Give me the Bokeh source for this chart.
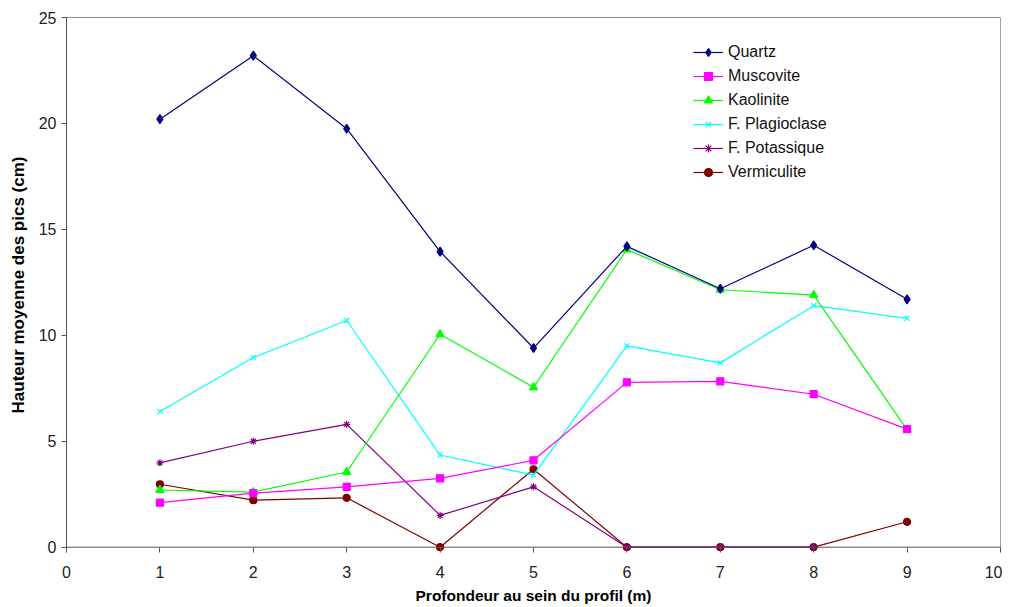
from bokeh.plotting import figure
from bokeh.models import ColumnDataSource, FixedTicker, Range1d, Legend, Span
from bokeh.embed import file_html
from bokeh.resources import INLINE

nan = float("nan")
depth = [1, 2, 3, 4, 5, 6, 7, 8, 9]
quartz = [20.2, 23.2, 19.75, 13.95, 9.4, 14.2, 12.2, 14.25, 11.7]
muscovite = [2.1, 2.55, 2.85, 3.25, 4.1, 7.78, 7.83, 7.22, 5.57]
kaolinite = [2.7, 2.6, 3.55, 10.05, 7.55, 14.05, 12.15, 11.9, 5.55]
plagioclase = [6.4, 8.95, 10.7, 4.35, 3.4, 9.5, 8.7, 11.4, 10.8]
potassique = [3.98, 5.0, 5.8, 1.5, 2.85, 0.0, 0.0, 0.0, nan]
vermiculite = [2.97, 2.22, 2.33, 0.0, 3.68, 0.0, 0.0, 0.0, 1.2]

series_names = ["Quartz", "Muscovite", "Kaolinite", "F. Plagioclase", "F. Potassique", "Vermiculite"]
series_values = [quartz, muscovite, kaolinite, plagioclase, potassique, vermiculite]
colors = ["#000080", "#FF00FF", "#00FF00", "#00FFFF", "#800080", "#800000"]
markers = ["diamond", "square", "triangle", "x", "asterisk", "circle"]
sizes = [9, 7, 8, 7, 7, 7]

x_ticks = list(range(0, 11))
y_ticks = [0, 5, 10, 15, 20, 25]

p = figure(frame_width=934, frame_height=535, output_backend="svg", toolbar_location=None,
           x_range=Range1d(0, 10), y_range=Range1d(-0.25, 25),
           min_border_left=66, min_border_right=2, min_border_top=17, min_border_bottom=55)
p.background_fill_color = "white"
p.border_fill_color = "white"
p.outline_line_color = None
p.grid.visible = False

# frame lines: top, right, and baseline at y=0
p.add_layout(Span(location=25, dimension="width", line_color="#222222", line_width=1))
p.add_layout(Span(location=10, dimension="height", line_color="#444444", line_width=1))
p.add_layout(Span(location=0, dimension="width", line_color="#555555", line_width=1))

renderers = {}
for name, vals, col, mk, sz in reversed(list(zip(series_names, series_values, colors, markers, sizes))):
    src = ColumnDataSource(dict(x=depth, y=vals))
    l = p.line("x", "y", source=src, line_color=col, line_width=1.2)
    s = p.scatter("x", "y", source=src, marker=mk, size=sz, fill_color=col, line_color=col, line_width=1.2)
    renderers[name] = [l, s]
items = [(name, renderers[name]) for name in series_names]

legend = Legend(items=items, location=(627, 370))
legend.background_fill_alpha = 0
legend.border_line_alpha = 0
legend.label_text_font = "Liberation Sans"
legend.label_text_font_size = "16px"
legend.label_text_color = "#111111"
legend.glyph_width = 30
legend.glyph_height = 20
legend.label_height = 20
legend.spacing = 4
legend.padding = 0
legend.margin = 0
legend.label_standoff = 5
p.add_layout(legend)

p.xaxis.ticker = FixedTicker(ticks=x_ticks)
p.yaxis.ticker = FixedTicker(ticks=y_ticks)
for ax in (p.xaxis, p.yaxis):
    ax.major_tick_line_color = "#555555"
    ax.minor_tick_line_color = None
    ax.major_label_text_color = "#222222"
    ax.axis_label_text_color = "#000000"
    ax.axis_label_text_font_style = "bold"
    ax.major_label_text_font = "Liberation Sans"
    ax.axis_label_text_font = "Liberation Sans"

p.xaxis.axis_line_color = None
p.xaxis.major_tick_in = 5
p.xaxis.major_tick_out = 0
p.xaxis.major_label_text_font_size = "16px"
p.xaxis.major_label_standoff = 13
p.xaxis.axis_label = "Profondeur au sein du profil (m)"
p.xaxis.axis_label_text_font_size = "15.5px"
p.xaxis.axis_label_standoff = 6

p.yaxis.axis_line_color = "#555555"
p.yaxis.major_tick_out = 5
p.yaxis.major_tick_in = 0
p.yaxis.major_label_text_font_size = "16px"
p.yaxis.major_label_standoff = 5
p.yaxis.axis_label = "Hauteur moyenne des pics (cm)"
p.yaxis.axis_label_text_font_size = "17px"
p.yaxis.axis_label_standoff = 8

open("out.html", "w").write(file_html(p, INLINE))
